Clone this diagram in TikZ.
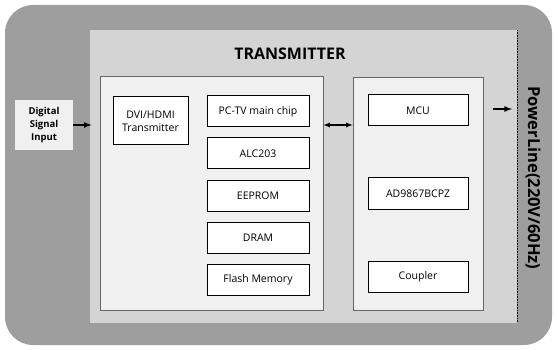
\documentclass[tikz,border=0pt]{standalone}
\usepackage{fontspec}
\setmainfont{Open Sans}
\usetikzlibrary{arrows,positioning}
\definecolor{outerbg}{gray}{0.62}
\definecolor{innerbg}{gray}{0.83}
\definecolor{panelbg}{gray}{0.94}
\tikzset{
  chip/.style={draw,line width=1pt,fill=white,minimum width=102pt,minimum height=31pt,
    inner sep=1pt,font=\fontsize{10.5}{12}\selectfont},
  panel/.style={draw=gray!80!black,line width=0.8pt,fill=panelbg,inner sep=0pt},
  flow/.style={->,>=latex,line width=1.6pt}
}
\begin{document}
\begin{tikzpicture}[x=1pt,y=-1pt]
\useasboundingbox (0,0) rectangle (557,350);
\node (outer) [fill=outerbg,rounded corners=28pt,minimum width=547pt,minimum height=340pt] at (278.5,175) {};
\node (tx) [fill=innerbg,minimum width=427pt,minimum height=293pt] at (303.5,176.5) {};
\node (title) [font=\fontsize{16}{18}\selectfont\bfseries] at (290,54) {TRANSMITTER};
\node (lpanel) [panel,minimum width=223pt,minimum height=234pt] at (211.5,193) {};
\node (rpanel) [panel,minimum width=130pt,minimum height=233pt] at (418,193.5) {};
\node (inp) [fill=panelbg,minimum width=58pt,minimum height=50pt,align=center,inner sep=0pt,
  font=\fontsize{9.5}{13}\selectfont\bfseries] at (44,125) {Digital\\Signal\\Input};
\node (dvi) [chip,minimum width=75pt,minimum height=48pt,align=center,
  font=\fontsize{10.5}{13}\selectfont] at (150.5,121) {DVI/HDMI\\Transmitter};
\node (pctv) [chip] at (258,111.5) {PC-TV main chip};
\node (alc) [chip,below=10pt of pctv] {ALC203};
\node (eeprom) [chip,below=10pt of alc] {EEPROM};
\node (dram) [chip,below=10pt of eeprom] {DRAM};
\node (flash) [chip,below=10pt of dram] {Flash Memory};
\node (mcu) [chip,minimum width=100pt] at (418,110.5) {MCU};
\node (ad) [chip,minimum width=100pt,below=51pt of mcu] {AD9867BCPZ};
\node (coupler) [chip,minimum width=100pt,below=51pt of ad] {Coupler};
\coordinate (pltop) at (517,30);
\coordinate (plbot) at (517,322);
\coordinate (busy) at (0,125);
\coordinate (outy) at (0,109);
\draw[densely dotted,line width=0.6pt] (pltop) -- (plbot);
\node (pl) [rotate=-90,font=\fontsize{16.5}{18}\selectfont\bfseries] at (533,178) {PowerLine(220V/60Hz)};
\draw[flow,shorten >=8pt] (inp.east) -- (inp.east -| lpanel.west);
\draw[<->,>=latex,line width=1.2pt] (lpanel.east |- busy) -- (rpanel.west |- busy);
\draw[flow,shorten <=10pt,shorten >=5pt] (rpanel.east |- outy) -- (pltop |- outy);
\end{tikzpicture}
\end{document}
